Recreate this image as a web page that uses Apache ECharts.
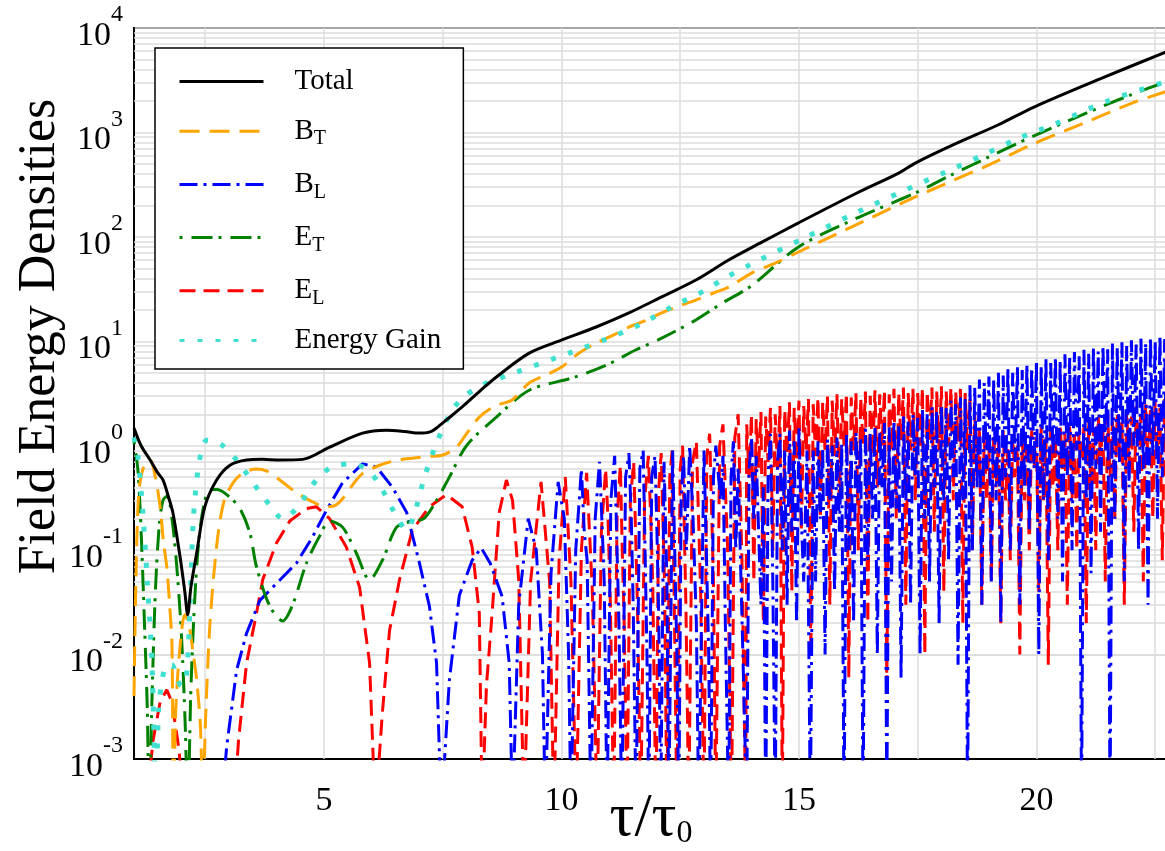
<!DOCTYPE html>
<html>
<head>
<meta charset="utf-8">
<script src="https://cdn.jsdelivr.net/npm/echarts@6/dist/echarts.min.js"></script>
<style>
  html, body { margin: 0; padding: 0; background: #fff; }
  #chart { width: 1165px; height: 851px; }
</style>
</head>
<body>
<div id="chart"></div>
<script>
// grid / tick values
var xGridLines = [2.5, 5, 7.5, 10, 12.5, 15, 17.5, 20, 22.5];
var xLabelTicks = [5, 10, 15, 20];
var yMantissas = [2, 3, 4, 5, 6, 7, 8, 9];
var yDecades = [-3, -2, -1, 0, 1, 2, 3];

// Total field energy
var totalData = [
  [1.0,1.48],[1.15,1.0],[1.34,0.73],[1.5,0.55],[1.61,0.47],[1.72,0.33],[1.82,0.227],[1.97,0.086],
  [2.07,0.04],[2.13,0.024],[2.2,0.045],[2.32,0.094],[2.49,0.26],[2.74,0.47],[3.02,0.65],[3.37,0.73],
  [3.7,0.74],[4.07,0.73],[4.55,0.74],[5.12,0.97],[5.81,1.32],[6.31,1.41],[6.7,1.37],[7.01,1.32],
  [7.22,1.35],[7.37,1.48],[7.6,1.8],[7.91,2.35],[8.27,3.3],[8.63,4.55],[9.32,7.7],[10.01,10.3],
  [10.73,13.7],[11.42,18.7],[12.11,26.6],[12.83,38.6],[13.52,60],[14.2,88],[14.99,136],[16.2,260],
  [17.1,408],[17.45,509],[18.3,780],[19.19,1178],[19.95,1750],[21.3,3200],[22.77,6000]
];

// B_T
var btData = [
  [1.0,0.004],[1.04,0.05],[1.1,0.35],[1.2,0.62],[1.34,0.73],[1.45,0.5],[1.55,0.26],[1.62,0.12],
  [1.69,0.069],[1.75,0.03],[1.8,0.012],[1.83,0.0003],[1.88,0.003],[1.97,0.012],[2.07,0.024],[2.15,0.02],
  [2.25,0.01],[2.32,0.0057],[2.4,0.002],[2.45,0.0003],[2.5,0.002],[2.6,0.02],[2.75,0.12],[2.9,0.3],
  [3.1,0.45],[3.3,0.55],[3.58,0.6],[3.8,0.57],[4.07,0.47],[4.4,0.36],[4.7,0.3],[5.05,0.26],
  [5.25,0.27],[5.39,0.31],[5.6,0.42],[5.81,0.54],[6.17,0.65],[6.5,0.72],[6.86,0.76],[7.2,0.79],
  [7.49,0.81],[7.79,0.97],[8.0,1.3],[8.27,1.88],[8.6,2.4],[8.96,2.74],[9.32,3.98],[9.7,4.8],
  [10.01,5.7],[10.35,7.6],[10.73,9.6],[11.1,11.5],[11.42,13.7],[11.8,16],[12.11,18.7],[12.5,22],
  [12.83,24.8],[13.2,29],[13.52,33],[14.0,45],[14.5,56],[15.0,72],[16.0,118],[17.45,241],
  [18.2,340],[19.0,488],[19.89,759],[21.0,1230],[22.0,1900],[22.77,2500]
];

// E_T
var etData = [
  [1.0,1.1],[1.08,0.6],[1.15,0.15],[1.22,0.02],[1.28,0.003],[1.32,0.0003],[1.38,0.004],[1.45,0.04],
  [1.53,0.17],[1.61,0.3],[1.7,0.33],[1.8,0.2],[1.9,0.07],[2.0,0.015],[2.08,0.002],[2.13,0.0003],
  [2.2,0.005],[2.3,0.05],[2.42,0.2],[2.6,0.38],[2.75,0.38],[3.02,0.32],[3.23,0.25],[3.44,0.146],
  [3.58,0.069],[3.86,0.029],[4.13,0.021],[4.34,0.03],[4.63,0.075],[4.9,0.134],[5.12,0.19],[5.39,0.166],
  [5.68,0.094],[5.96,0.052],[6.23,0.08],[6.53,0.166],[6.86,0.19],[7.1,0.2],[7.37,0.3],[7.64,0.5],
  [8.0,1.0],[8.63,1.88],[9.32,3.4],[10.22,4.45],[10.94,5.9],[11.57,8.3],[12.11,10.7],[12.83,16],
  [13.37,23],[14.0,34],[14.99,80],[16.2,150],[17.45,263],[18.2,390],[19.0,582],[19.89,904],
  [21.0,1500],[22.0,2300],[22.77,3100]
];

// Energy Gain
var gainData = [
  [1.0,1.2],[1.08,0.8],[1.18,0.25],[1.28,0.05],[1.38,0.008],[1.46,0.0005],[1.52,0.003],[1.6,0.006],
  [1.7,0.008],[1.8,0.008],[1.9,0.006],[2.0,0.005],[2.1,0.006],[2.18,0.03],[2.25,0.2],[2.35,0.6],
  [2.45,1.0],[2.53,1.13],[2.7,1.1],[2.87,1.0],[3.16,0.73],[3.61,0.38],[3.86,0.27],[4.13,0.2],
  [4.42,0.25],[4.87,0.49],[5.18,0.63],[5.54,0.67],[5.9,0.6],[6.17,0.42],[6.53,0.21],[6.74,0.156],
  [6.9,0.22],[7.11,0.49],[7.37,1.06],[7.7,2.2],[8.0,3.06],[8.33,3.8],[9.07,5.1],[10.16,7.7],
  [10.9,10.3],[11.63,14.3],[12.32,21.3],[13.04,31],[13.37,38.6],[14.0,55],[15.1,97],[16.2,170],
  [17.24,281],[18.1,420],[18.92,620],[19.6,870],[20.39,1205],[21.5,2000],[22.77,3100]
];

// B_L, up to x = 15.25
var blHead = [
  [2.8,0.0002],[2.95,0.0013],[3.16,0.0071],[3.37,0.016],[3.65,0.033],[4.0,0.048],[4.42,0.075],[4.76,0.134],
  [5.05,0.24],[5.39,0.44],[5.81,0.67],[6.1,0.63],[6.44,0.4],[6.74,0.23],[7.01,0.075],[7.22,0.029],
  [7.37,0.0083],[7.47,0.0003],[7.64,0.0057],[7.85,0.037],[8.12,0.08],[8.31,0.105],[8.5,0.075],[8.75,0.036],
  [8.9,0.0083],[8.97,0.0003],[9.1,0.03],[9.3,0.2],[9.47,0.1],[9.6,0.01],[9.66,0.0003],[9.78,0.06],
  [9.93,0.45],[10.06,0.2],[10.15,0.01],[10.2,0.0003],[10.3,0.1],[10.42,0.6],[10.48,0.15],[10.54,0.08],[10.62,0.0003],
  [10.71,0.2],[10.8,0.7],[10.85,0.2],[10.9,0.05],[10.96,0.0003],[11.04,0.3],[11.12,0.8],[11.17,0.1],[11.21,0.02],[11.27,0.0003],
  [11.35,0.5],[11.42,0.85],[11.47,0.2],[11.51,0.03],[11.57,0.0003],[11.65,0.6],[11.72,0.9],[11.76,0.1],[11.8,0.01],[11.84,0.0003],
  [11.9,0.5],[11.97,0.8],[12.01,0.15],[12.05,0.02],[12.09,0.0003],[12.16,0.7],[12.22,0.05],[12.26,0.0003],[12.34,0.9],
  [12.43,0.01],[12.47,0.0003],[12.52,0.3],[12.57,0.8],[12.63,0.1],[12.7,1.0],[12.77,0.2],[12.84,0.02],[12.89,0.0003],[13.0,0.9],[13.05,0.1],[13.1,0.01],
  [13.14,0.0003],[13.2,0.5],[13.25,1.0],[13.35,0.3],[13.4,0.8],[13.45,0.02],[13.52,0.0003],[13.57,0.5],[13.62,1.1],[13.67,0.1],[13.72,0.6],[13.82,0.01],
  [13.9,0.0003],[13.95,0.6],[14.0,1.2],[14.05,0.2],[14.1,0.8],[14.2,0.03],[14.25,0.4],[14.3,0.0003],[14.35,0.5],[14.4,1.3],[14.45,0.05],[14.5,0.0003],
  [14.55,0.7],[14.6,1.3],[14.65,0.1],[14.7,0.9],[14.75,0.03],[14.8,1.4],[14.85,0.15],[14.9,1.1],[14.95,0.02],[15.0,1.5],[15.05,0.2],[15.1,0.05],[15.17,0.9],[15.24,0.0003]
];
// B_L, x = 15.30, 15.35, ... 22.75
var blDenseStart = 15.3;
var blDense = [
  0.9,0.05, 1.1,0.2, 0.95,0.01, 1.15,0.3, 1.0,0.04, 1.2,0.15, 1.05,0.0003, 1.3,0.1,
  1.1,0.02, 1.35,0.3, 1.2,0.0003, 1.45,0.08, 1.3,0.2, 1.55,0.01, 1.4,0.4, 1.65,0.0004,
  1.5,0.05, 1.75,0.25, 1.6,0.006, 1.9,0.3, 1.7,0.03, 2.0,0.5, 1.85,0.01, 2.2,0.2,
  2.0,0.05, 2.35,0.4, 2.15,0.02, 2.5,0.3, 2.3,0.08, 2.7,0.5, 2.5,0.008, 2.9,0.3,
  2.8,0.0003, 3.8,0.1, 3.6,0.4, 4.3,0.03, 4.0,0.6, 4.6,0.05, 4.3,0.3, 5.0,0.02,
  4.7,0.5, 5.4,0.1, 5.0,0.7, 5.7,0.03, 5.3,0.4, 6.0,0.15, 5.6,0.6, 6.4,0.01,
  5.9,0.3, 6.8,0.08, 6.2,0.8, 7.1,0.2, 6.5,0.05, 7.5,0.5, 6.9,0.1, 7.9,0.9,
  7.2,0.0003, 8.3,0.3, 7.6,0.06, 8.7,0.6, 8.0,0.15, 9.1,0.9, 8.4,0.0003, 9.5,0.2,
  8.7,0.7, 9.8,0.05, 9.0,0.4, 10.2,1.0, 9.3,0.1, 10.6,0.6, 9.6,0.03, 11.0,0.8,
  10.0,0.2, 11.5,0.5, 10.5,0.3
];

// E_L, up to x = 13.88
var elHead = [
  [1.25,0.0003],[1.4,0.0015],[1.55,0.0035],[1.69,0.0046],[1.8,0.0035],[1.95,0.0012],[2.05,0.0003],
  [3.1,0.0003],[3.2,0.0015],[3.37,0.0083],[3.58,0.025],[3.71,0.052],[4.0,0.117],[4.28,0.19],[4.63,0.25],
  [4.84,0.26],[5.12,0.2],[5.47,0.107],[5.75,0.044],[5.96,0.0083],[6.08,0.0003],[6.23,0.0028],[6.38,0.017],
  [6.59,0.052],[6.86,0.156],[7.22,0.26],[7.58,0.34],[7.91,0.26],[8.12,0.107],[8.27,0.025],[8.33,0.0003],
  [8.42,0.005],[8.54,0.025],[8.69,0.23],[8.84,0.47],[8.97,0.3],[9.1,0.052],[9.21,0.0003],[9.35,0.05],
  [9.57,0.45],[9.75,0.05],[9.84,0.0003],[9.95,0.08],[10.08,0.5],[10.2,0.05],[10.31,0.0003],[10.42,0.1],
  [10.53,0.55],[10.59,0.15],[10.65,0.04],[10.75,0.0003],[10.84,0.15],[10.93,0.6],[10.98,0.2],[11.03,0.03],[11.1,0.0003],[11.17,0.2],
  [11.24,0.65],[11.28,0.1],[11.32,0.02],[11.38,0.0003],[11.45,0.3],[11.52,0.7],[11.56,0.15],[11.6,0.03],[11.67,0.0003],[11.75,0.3],
  [11.83,0.8],[11.88,0.2],[11.92,0.05],[11.99,0.0003],[12.05,0.4],[12.1,0.85],[12.17,0.05],[12.22,0.0003],[12.28,0.5],
  [12.33,0.9],[12.38,0.02],[12.43,0.0003],[12.5,0.6],[12.55,1.0],[12.62,0.03],[12.68,0.0003],[12.76,0.7],
  [12.84,1.1],[12.93,0.04],[13.0,0.0003],[13.06,0.8],[13.12,1.3],[13.2,0.05],[13.25,0.0003],[13.33,1.0],
  [13.4,1.6],[13.5,0.1],[13.58,0.0003],[13.65,1.2],[13.72,2.0],[13.8,0.08],[13.88,0.0003]
];
// E_L, x = 13.90, 13.95, ... 22.75
var elDenseStart = 13.9;
var elDense = [
  1.6,0.5, 2.0,0.05, 1.8,0.6, 2.1,0.02, 1.9,0.7, 2.3,0.1, 2.0,0.6, 2.4,0.0003,
  2.2,0.8, 2.6,0.04, 2.3,0.7, 2.7,0.15, 2.4,0.9, 2.8,0.01, 2.5,0.8, 2.9,0.2,
  2.6,0.9, 3.0,0.03, 2.7,0.8, 3.1,0.3, 2.8,1.0, 3.2,0.006, 2.9,0.9, 3.2,0.1,
  2.9,1.0, 3.3,0.02, 3.0,0.8, 3.4,0.4, 3.1,1.0, 3.4,0.005, 3.1,0.9, 3.5,0.2,
  3.2,1.1, 3.6,0.03, 3.2,0.9, 3.5,0.3, 3.2,1.0, 3.6,0.01, 3.3,1.1, 3.6,0.15,
  3.3,0.9, 3.7,0.04, 3.3,1.0, 3.6,0.3, 3.3,1.1, 3.5,0.02, 3.2,0.9, 2.8,0.1,
  2.0,0.5, 1.5,0.03, 1.2,0.3, 1.0,0.05, 1.3,0.4, 1.1,0.02, 1.4,0.3, 1.0,0.08,
  1.2,0.5, 1.0,0.01, 1.3,0.3, 1.1,0.1, 1.4,0.6, 1.2,0.04, 1.5,0.3, 1.2,0.008,
  1.4,0.4, 1.2,0.1, 1.6,0.6, 1.3,0.03, 1.6,0.3, 1.4,0.1, 1.7,0.7, 1.5,0.02,
  1.8,0.4, 1.5,0.1, 1.9,0.8, 1.6,0.05, 2.0,0.5, 1.7,0.2, 2.1,0.9, 1.8,0.03,
  2.2,0.6, 1.9,0.15, 2.4,1.0, 2.0,0.05, 2.5,0.7, 2.2,0.2, 2.7,1.0, 2.3,0.08,
  2.8,0.5
];
var denseStep = 0.05;

function onGrid(start, vals) {
  return vals.map(function (v, i) { return [+(start + i * denseStep).toFixed(2), v]; });
}
var blData = blHead.concat(onGrid(blDenseStart, blDense));
var elData = elHead.concat(onGrid(elDenseStart, elDense));

var serif = 'Liberation Serif, Times New Roman, serif';

var yMinorLines = [];
yDecades.forEach(function (d) {
  yMantissas.forEach(function (m) {
    yMinorLines.push({ yAxis: m * Math.pow(10, d) });
  });
});
var xMinorLines = xGridLines.map(function (v) { return { xAxis: v }; });

var chart = echarts.init(document.getElementById('chart'));
chart.setOption({
  animation: false,
  backgroundColor: '#fff',
  grid: {
    left: 134, right: -3, top: 28, bottom: 92,
    outerBoundsMode: 'none', containLabel: false,
    show: true, borderColor: '#000', borderWidth: 2
  },
  legend: {
    data: ['Total', 'B_T', 'B_L', 'E_T', 'E_L', 'Energy Gain'],
    orient: 'vertical',
    left: 155, top: 48,
    padding: [19, 22, 14, 23],
    itemWidth: 84, itemHeight: 14, itemGap: 17.2,
    backgroundColor: '#fff',
    borderColor: '#000', borderWidth: 1.5,
    lineStyle: { width: 3 },
    itemStyle: { color: 'rgba(0,0,0,0)', borderWidth: 0 },
    formatter: function (name) {
      if (name.indexOf('_') > 0) {
        var p = name.split('_');
        return '{m|' + p[0] + '}{s|' + p[1] + '}';
      }
      return '{m|' + name + '}';
    },
    textStyle: {
      fontFamily: serif, color: '#000', padding: [0, 0, 0, 26],
      rich: {
        m: { fontFamily: serif, fontSize: 29, lineHeight: 34, color: '#000' },
        s: { fontFamily: serif, fontSize: 20, lineHeight: 20, padding: [16, 0, 0, 0], color: '#000' }
      }
    }
  },
  xAxis: {
    type: 'value', min: 1, max: 22.77,
    name: '{t|τ/τ}{s|0}', nameLocation: 'middle', nameGap: 29, nameMoveOverlap: false,
    nameTextStyle: {
      fontFamily: serif, fontSize: 62, color: '#000',
      rich: {
        t: { fontFamily: serif, fontSize: 62, lineHeight: 62, verticalAlign: 'top', color: '#000' },
        s: { fontFamily: serif, fontSize: 32, lineHeight: 32, verticalAlign: 'bottom', color: '#000' }
      }
    },
    axisLine: { show: true, lineStyle: { color: '#000', width: 2 } },
    axisTick: { show: false },
    splitLine: { show: false },
    axisLabel: {
      customValues: xLabelTicks,
      fontFamily: serif, fontSize: 34, color: '#000', margin: 25
    }
  },
  yAxis: {
    type: 'log', logBase: 10, min: 0.001, max: 10000,
    name: 'Field Energy Densities', nameLocation: 'middle', nameGap: 68, nameMoveOverlap: false,
    nameTextStyle: { fontFamily: serif, fontSize: 52, color: '#000', padding: [0, 0, 0, 114] },
    axisLine: { show: true, lineStyle: { color: '#000', width: 2 } },
    axisTick: { show: false },
    splitLine: { show: true, lineStyle: { color: '#dcdcdc', width: 1.5 } },
    axisLabel: {
      margin: 11,
      formatter: function (v) {
        var e = Math.round(Math.log10(v));
        return '{b|10}{e|' + e + '}';
      },
      rich: {
        b: { fontFamily: serif, fontSize: 34, lineHeight: 50, verticalAlign: 'bottom', color: '#000' },
        e: { fontFamily: serif, fontSize: 24, lineHeight: 36, verticalAlign: 'top', color: '#000' }
      }
    }
  },
  series: [
    {
      name: 'gridlines', type: 'line', data: [], silent: true, z: 1,
      markLine: {
        silent: true, symbol: ['none', 'none'], label: { show: false }, z: 1,
        lineStyle: { color: '#dcdcdc', width: 1.5, type: 'solid' },
        emphasis: { disabled: true },
        data: yMinorLines.concat(xMinorLines)
      }
    },
    {
      name: 'E_L', type: 'line', data: elData, showSymbol: false, symbol: 'none',
      lineStyle: { color: '#ff0000', width: 3, type: [16, 8] }, itemStyle: { color: '#ff0000' }
    },
    {
      name: 'B_L', type: 'line', data: blData, showSymbol: false, symbol: 'none',
      lineStyle: { color: '#0000ff', width: 3, type: [18, 6, 3, 6] }, itemStyle: { color: '#0000ff' }
    },
    {
      name: 'E_T', type: 'line', data: etData, showSymbol: false, symbol: 'none', smooth: 0.3,
      lineStyle: { color: '#008000', width: 3, type: [3, 9, 21, 6] }, itemStyle: { color: '#008000' }
    },
    {
      name: 'B_T', type: 'line', data: btData, showSymbol: false, symbol: 'none', smooth: 0.3,
      lineStyle: { color: '#ffa500', width: 3, type: [20, 10] }, itemStyle: { color: '#ffa500' }
    },
    {
      name: 'Energy Gain', type: 'line', data: gainData, showSymbol: false, symbol: 'none', smooth: 0.3,
      lineStyle: { color: '#40e0d0', width: 5, type: [5, 13] }, itemStyle: { color: '#40e0d0' }
    },
    {
      name: 'Total', type: 'line', data: totalData, showSymbol: false, symbol: 'none', smooth: 0.3,
      lineStyle: { color: '#000', width: 3 }, itemStyle: { color: '#000' }
    }
  ]
});
</script>
</body>
</html>
